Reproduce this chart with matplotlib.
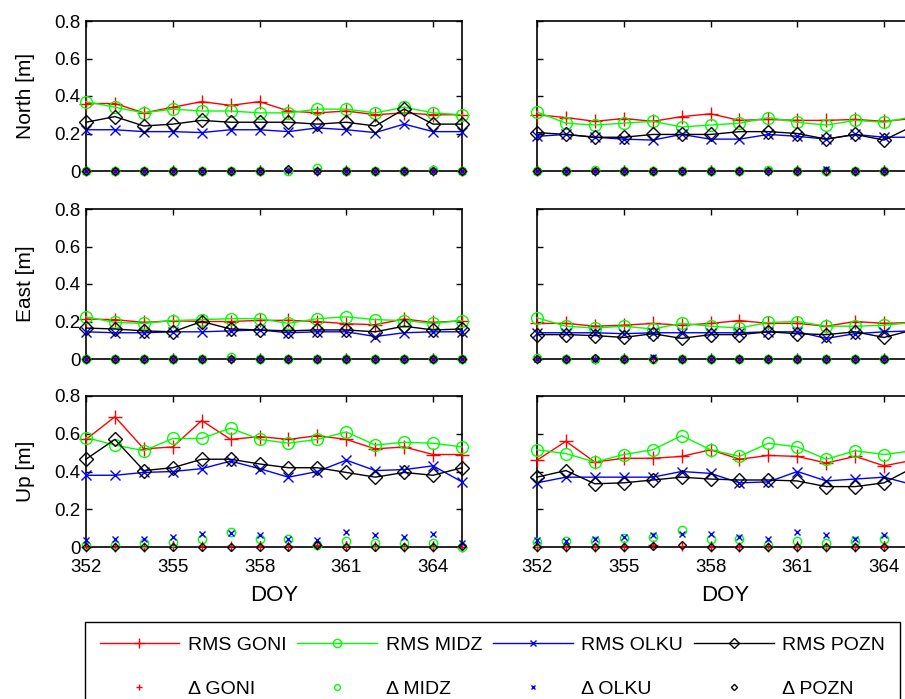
import matplotlib
matplotlib.use('Agg')
import matplotlib.pyplot as plt
from matplotlib.ticker import FixedLocator, FuncFormatter

plt.rcParams['font.family'] = ['Liberation Sans', 'DejaVu Sans']

# ---------------- data ----------------
doy = [352, 353, 354, 355, 356, 357, 358, 359, 360, 361, 362, 363, 364, 365]
x_ticks = [352, 355, 358, 361, 364]
y_ticks = [0, 0.2, 0.4, 0.6, 0.8]
components = ['North [m]', 'East [m]', 'Up [m]']
stations = ['GONI', 'MIDZ', 'OLKU', 'POZN']

# North, left column
rms_north_L_goni = [0.36, 0.36, 0.31, 0.34, 0.37, 0.35, 0.37, 0.32, 0.31, 0.32, 0.30, 0.31, 0.30, 0.30]
rms_north_L_midz = [0.37, 0.34, 0.31, 0.33, 0.32, 0.32, 0.31, 0.31, 0.33, 0.33, 0.31, 0.34, 0.31, 0.30]
rms_north_L_olku = [0.22, 0.22, 0.21, 0.21, 0.205, 0.22, 0.22, 0.21, 0.23, 0.22, 0.205, 0.25, 0.21, 0.21]
rms_north_L_pozn = [0.26, 0.29, 0.24, 0.25, 0.27, 0.26, 0.26, 0.26, 0.25, 0.26, 0.24, 0.33, 0.25, 0.25]
d_north_L_goni = [0, 0, 0, 0, 0, 0, 0, 0.004, 0, 0, 0, 0, 0, 0]
d_north_L_midz = [0, 0, 0, 0, 0, 0, 0, 0, 0.015, 0, 0, 0, 0.005, 0]
d_north_L_olku = [0, 0, 0, 0, 0, 0, 0, 0.008, 0, 0, 0, 0, 0, 0]
d_north_L_pozn = [0, 0, 0, 0, 0, 0, 0, 0.01, 0, 0, 0, 0, 0, 0]

# North, right column
rms_north_R_goni = [0.30, 0.285, 0.265, 0.28, 0.265, 0.29, 0.305, 0.27, 0.275, 0.27, 0.27, 0.275, 0.265, 0.28]
rms_north_R_midz = [0.315, 0.255, 0.245, 0.255, 0.265, 0.235, 0.245, 0.255, 0.285, 0.26, 0.245, 0.27, 0.26, 0.29]
rms_north_R_olku = [0.185, 0.195, 0.18, 0.17, 0.165, 0.195, 0.17, 0.17, 0.195, 0.185, 0.17, 0.195, 0.18, 0.18]
rms_north_R_pozn = [0.205, 0.195, 0.18, 0.18, 0.195, 0.195, 0.195, 0.21, 0.21, 0.20, 0.17, 0.195, 0.165, 0.24]
d_north_R_goni = [0, 0, 0, 0, 0, 0, 0, 0, 0, 0, 0, 0, 0, 0]
d_north_R_midz = [0, 0, 0.005, 0, 0, 0, 0, 0, 0.004, 0, 0, 0, 0, 0]
d_north_R_olku = [0, 0, 0, 0, 0, 0, 0, 0, 0, 0, 0.01, 0, 0, 0]
d_north_R_pozn = [0, 0, 0, 0, 0, 0, 0, 0, 0, 0, 0, 0, 0, 0]

# East, left column
rms_east_L_goni = [0.213, 0.21, 0.195, 0.204, 0.20, 0.20, 0.206, 0.206, 0.20, 0.188, 0.183, 0.213, 0.195, 0.204]
rms_east_L_midz = [0.225, 0.195, 0.19, 0.205, 0.21, 0.215, 0.215, 0.19, 0.215, 0.225, 0.21, 0.205, 0.19, 0.205]
rms_east_L_olku = [0.145, 0.14, 0.14, 0.145, 0.145, 0.15, 0.155, 0.14, 0.145, 0.145, 0.12, 0.14, 0.145, 0.145]
rms_east_L_pozn = [0.165, 0.16, 0.15, 0.145, 0.20, 0.16, 0.155, 0.15, 0.155, 0.155, 0.145, 0.175, 0.155, 0.16]
d_east_L_goni = [0, 0, 0, 0, 0, 0, 0, 0, 0, 0, 0, 0, 0, 0]
d_east_L_midz = [0, 0, 0, 0, 0, 0.01, 0, 0, 0, 0, 0, 0, 0, 0]
d_east_L_olku = [0, 0, 0, 0, 0, 0, 0, 0, 0, 0, 0, 0, 0, 0]
d_east_L_pozn = [0, 0, 0, 0, 0, 0, 0, 0, 0, 0, 0, 0, 0, 0]

# East, right column
rms_east_R_goni = [0.19, 0.19, 0.175, 0.18, 0.19, 0.18, 0.19, 0.205, 0.19, 0.19, 0.175, 0.20, 0.19, 0.195]
rms_east_R_midz = [0.22, 0.175, 0.165, 0.175, 0.16, 0.19, 0.175, 0.165, 0.195, 0.20, 0.175, 0.175, 0.18, 0.195]
rms_east_R_olku = [0.14, 0.14, 0.14, 0.135, 0.14, 0.14, 0.14, 0.14, 0.145, 0.145, 0.11, 0.135, 0.145, 0.15]
rms_east_R_pozn = [0.13, 0.13, 0.125, 0.115, 0.135, 0.11, 0.13, 0.13, 0.145, 0.135, 0.13, 0.145, 0.115, 0.155]
d_east_R_goni = [0, 0, 0, 0, 0, 0, 0, 0, 0, 0, 0, 0, 0, 0]
d_east_R_midz = [0.003, 0, 0, 0, 0, 0, 0, 0, 0, 0, 0, 0, 0, 0]
d_east_R_olku = [0, 0, 0, 0, 0.01, 0, 0, 0, 0, 0, 0, 0, 0, 0]
d_east_R_pozn = [0, 0, 0.008, 0, 0, 0, 0, 0, 0, 0, 0, 0, 0, 0]

# Up, left column
rms_up_L_goni = [0.57, 0.69, 0.52, 0.53, 0.67, 0.57, 0.585, 0.57, 0.59, 0.57, 0.52, 0.53, 0.49, 0.49]
rms_up_L_midz = [0.58, 0.54, 0.51, 0.575, 0.575, 0.63, 0.57, 0.55, 0.57, 0.61, 0.54, 0.555, 0.55, 0.53]
rms_up_L_olku = [0.38, 0.38, 0.395, 0.40, 0.415, 0.455, 0.415, 0.37, 0.40, 0.46, 0.405, 0.41, 0.43, 0.345]
rms_up_L_pozn = [0.465, 0.57, 0.405, 0.42, 0.465, 0.465, 0.44, 0.42, 0.42, 0.395, 0.37, 0.395, 0.38, 0.42]
d_up_L_goni = [0, 0, 0, 0.005, 0.005, 0.005, 0.005, 0.005, 0.01, 0.005, 0.005, 0, 0, 0]
d_up_L_midz = [0.01, 0.01, 0.02, 0.027, 0.04, 0.08, 0.04, 0.04, 0.01, 0.03, 0.02, 0.02, 0.02, 0.0]
d_up_L_olku = [0.035, 0.044, 0.04, 0.053, 0.07, 0.074, 0.062, 0.044, 0.035, 0.08, 0.062, 0.053, 0.07, 0.02]
d_up_L_pozn = [0, 0, 0, 0, 0, 0, 0, 0, 0.012, 0, 0, 0, 0, 0.005]

# Up, right column
rms_up_R_goni = [0.46, 0.56, 0.45, 0.47, 0.47, 0.48, 0.515, 0.465, 0.485, 0.48, 0.445, 0.48, 0.43, 0.46]
rms_up_R_midz = [0.515, 0.495, 0.45, 0.49, 0.515, 0.59, 0.515, 0.48, 0.55, 0.53, 0.465, 0.51, 0.49, 0.51]
rms_up_R_olku = [0.34, 0.37, 0.37, 0.37, 0.37, 0.40, 0.39, 0.34, 0.345, 0.40, 0.35, 0.36, 0.37, 0.33]
rms_up_R_pozn = [0.37, 0.405, 0.335, 0.34, 0.355, 0.37, 0.36, 0.355, 0.355, 0.35, 0.32, 0.32, 0.34, 0.42]
d_up_R_goni = [0, 0, 0, 0, 0.01, 0.005, 0, 0, 0, 0, 0, 0, 0.005, 0]
d_up_R_midz = [0.027, 0.03, 0.03, 0.05, 0.053, 0.092, 0.04, 0.04, 0.01, 0.03, 0.02, 0.03, 0.04, 0.03]
d_up_R_olku = [0.035, 0.032, 0.04, 0.053, 0.062, 0.07, 0.07, 0.053, 0.04, 0.08, 0.062, 0.044, 0.062, 0.04]
d_up_R_pozn = [0, 0, 0, 0, 0.005, 0.01, 0, 0, 0, 0, 0, 0, 0, 0]

panels = [
    [([rms_north_L_goni, rms_north_L_midz, rms_north_L_olku, rms_north_L_pozn],
      [d_north_L_goni, d_north_L_midz, d_north_L_olku, d_north_L_pozn]),
     ([rms_north_R_goni, rms_north_R_midz, rms_north_R_olku, rms_north_R_pozn],
      [d_north_R_goni, d_north_R_midz, d_north_R_olku, d_north_R_pozn])],
    [([rms_east_L_goni, rms_east_L_midz, rms_east_L_olku, rms_east_L_pozn],
      [d_east_L_goni, d_east_L_midz, d_east_L_olku, d_east_L_pozn]),
     ([rms_east_R_goni, rms_east_R_midz, rms_east_R_olku, rms_east_R_pozn],
      [d_east_R_goni, d_east_R_midz, d_east_R_olku, d_east_R_pozn])],
    [([rms_up_L_goni, rms_up_L_midz, rms_up_L_olku, rms_up_L_pozn],
      [d_up_L_goni, d_up_L_midz, d_up_L_olku, d_up_L_pozn]),
     ([rms_up_R_goni, rms_up_R_midz, rms_up_R_olku, rms_up_R_pozn],
      [d_up_R_goni, d_up_R_midz, d_up_R_olku, d_up_R_pozn])],
]

# ---------------- style ----------------
colors = ['#ff0000', '#00ff00', '#0000ff', '#000000']
markers = ['+', 'o', 'x', 'D']
rms_ms = [10, 8.5, 7, 7]
d_ms = [7, 6, 5, 4.5]

W, H = 905, 699
fig = plt.figure(figsize=(W / 100, H / 100), dpi=100)

col_x = [86, 537]
col_w = 376
row_top = [21, 209, 396]
row_bot = [171, 359, 547]

handles = {}
for r in range(3):
    for c in range(2):
        ax = fig.add_axes([col_x[c] / W, 1 - row_bot[r] / H, col_w / W,
                           (row_bot[r] - row_top[r]) / H])
        rms_list, d_list = panels[r][c]
        for i in range(4):
            ln, = ax.plot(doy, rms_list[i], color=colors[i], marker=markers[i],
                          ms=rms_ms[i], mfc='none', mew=1.0, lw=1.0,
                          clip_on=False, zorder=3)
            handles.setdefault('RMS ' + stations[i], ln)
        for i in range(4):
            dl, = ax.plot(doy, d_list[i], color=colors[i], marker=markers[i],
                          ms=d_ms[i], mfc='none', mew=1.0, ls='none',
                          clip_on=False, zorder=4)
            handles.setdefault('\u0394 ' + stations[i], dl)
        ax.set_xlim(352, 365)
        ax.set_ylim(0, 0.8)
        ax.xaxis.set_major_locator(FixedLocator(x_ticks))
        ax.yaxis.set_major_locator(FixedLocator(y_ticks))
        ax.yaxis.set_major_formatter(FuncFormatter(lambda v, p: '%g' % v))
        ax.tick_params(direction='in', top=True, right=True, length=4,
                       width=1, labelsize=13.5)
        ax.tick_params(axis='x', pad=9)
        ax.tick_params(axis='y', pad=4)
        for s in ax.spines.values():
            s.set_linewidth(1.2)
        if c == 1:
            ax.tick_params(labelleft=False)
        else:
            ax.set_ylabel(components[r], fontsize=15, labelpad=14)
        if r < 2:
            ax.tick_params(labelbottom=False)
        else:
            ax.set_xlabel('DOY', fontsize=16, labelpad=6)

order = []
for s in stations:
    order += ['RMS ' + s, '\u0394 ' + s]
leg = fig.legend([handles[k] for k in order], order, loc='upper left',
                 bbox_to_anchor=(85 / W, 1 - 622 / H), ncol=4, fontsize=14,
                 frameon=True, fancybox=False, edgecolor='black',
                 framealpha=1, numpoints=1, markerscale=0.7,
                 handlelength=4.1, handletextpad=0.45, columnspacing=0.55,
                 labelspacing=1.35, borderpad=0.75, borderaxespad=0)
leg.get_frame().set_linewidth(1.0)

fig.savefig('out.png', dpi=100)
